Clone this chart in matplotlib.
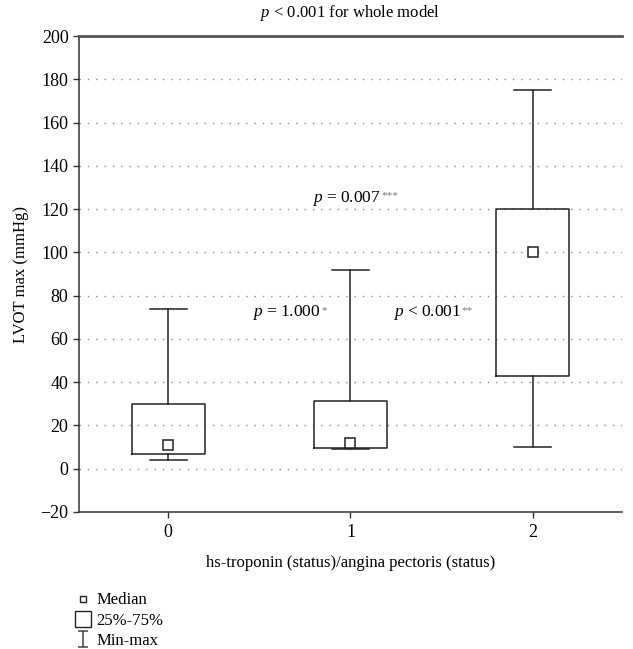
import matplotlib
matplotlib.use("Agg")
import matplotlib.pyplot as plt
from matplotlib.lines import Line2D
from matplotlib.path import Path

plt.rcParams['font.family'] = ['Liberation Serif', 'DejaVu Serif']
plt.rcParams['mathtext.fontset'] = 'custom'
plt.rcParams['mathtext.it'] = 'Liberation Serif:italic'
plt.rcParams['mathtext.rm'] = 'Liberation Serif'

# data
groups = [0, 1, 2]
mins = [4, 9, 10]
q1s = [7, 9.5, 43]
medians = [11, 12, 100]
q3s = [30, 31.5, 120]
maxs = [74, 92, 175]

yticks = list(range(-20, 201, 20))

# pairwise p-value labels: text, stars, x (left edge), y
p_texts = [r'$p$ = 1.000', r'$p$ = 0.007', r'$p$ < 0.001']
p_stars = ['*', '***', '**']
p_x = [0.462, 0.791, 1.231]
p_y = [72, 125, 72]

fig = plt.figure(figsize=(6.33, 6.49), dpi=100)
ax = fig.add_axes([0.1248, 0.2111, 0.8578, 0.7334])

stats = []
for g, lo, a, m, b, hi in zip(groups, mins, q1s, medians, q3s, maxs):
    stats.append({'whislo': lo, 'q1': a, 'med': m, 'q3': b, 'whishi': hi, 'label': str(g)})

ax.bxp(stats, positions=groups, widths=0.4, capwidths=0.2, showfliers=False,
       boxprops=dict(color='#222222', linewidth=1.1),
       whiskerprops=dict(color='#222222', linewidth=1.1),
       capprops=dict(color='#222222', linewidth=1.1),
       medianprops=dict(linewidth=0))
ax.plot(groups, medians, 's', ms=6.5, mfc='white', mec='#222222', mew=1.1, ls='none', zorder=5)

ax.set_xlim(-0.49, 2.49)
ax.set_ylim(-20, 200)
ax.set_yticks(yticks)
ax.set_xticks(groups)
ax.set_xticklabels([str(g) for g in groups])
for y in yticks[1:-1]:
    ax.axhline(y, color='#888888', lw=1.0, ls=(0, (1, 5)), zorder=0)

ax.spines['right'].set_visible(False)
for s in ['left', 'bottom']:
    ax.spines[s].set_color('#333333')
    ax.spines[s].set_linewidth(1.1)
ax.spines['top'].set_color('#555555')
ax.spines['top'].set_linewidth(2.0)
ax.tick_params(axis='both', labelsize=13, length=4, color='#333333', width=1.0)
ax.tick_params(axis='x', pad=5)

ax.set_xlabel('hs-troponin (status)/angina pectoris (status)', fontsize=12, labelpad=10)
ax.set_ylabel('LVOT max (mmHg)', fontsize=12, labelpad=8)
ax.set_title(r'$p$ < 0.001 for whole model', fontsize=12, pad=14)

for txt, st, x, y in zip(p_texts, p_stars, p_x, p_y):
    t = ax.text(x, y, txt, fontsize=12.5, ha='left', va='center')
    ax.annotate(st, xy=(1, 0.62), xycoords=t, xytext=(0.5, 0), textcoords='offset points',
                fontsize=8, color='#777777', ha='left', va='center')

# legend below the axes
minmax = Path([(-0.6, 1), (0.6, 1), (0, 1), (0, -1), (-0.6, -1), (0.6, -1)],
              [Path.MOVETO, Path.LINETO, Path.MOVETO, Path.LINETO, Path.MOVETO, Path.LINETO])
handles = [
    Line2D([], [], marker='s', ms=5, mfc='white', mec='#222222', mew=1.0, ls='none'),
    Line2D([], [], marker='s', ms=12, mfc='white', mec='#222222', mew=1.0, ls='none'),
    Line2D([], [], marker=minmax, ms=11, mfc='none', mec='#444444', mew=1.1, ls='none'),
]
fig.legend(handles, ['Median', '25%-75%', 'Min-max'], loc='upper left',
           bbox_to_anchor=(0.105, 0.1), frameon=False, fontsize=12,
           handlelength=1.0, handletextpad=0.3, labelspacing=0.25, borderpad=0)

fig.savefig('out.png', dpi=100)
